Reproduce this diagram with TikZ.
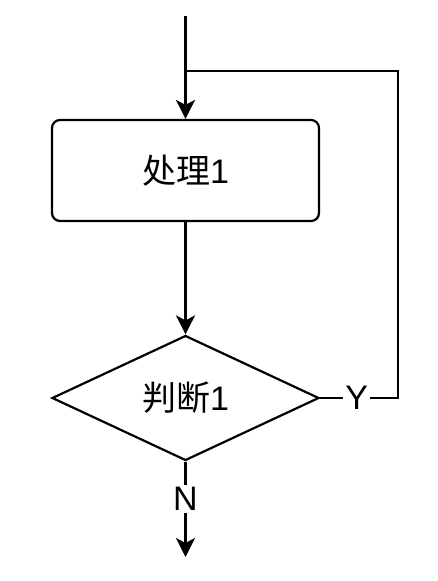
\documentclass[tikz,border=0pt]{standalone}
\usepackage{fontspec}
\setmainfont{Liberation Sans}
\newfontfamily\cjk{Noto Sans CJK SC}
\usetikzlibrary{shapes.geometric,arrows.meta}
\begin{document}
\begin{tikzpicture}[x=1pt,y=-1pt,
  every node/.style={font=\fontsize{34}{40}\selectfont},
  procbox/.style={draw,line width=2.2pt,rounded corners=8pt,minimum width=267pt,minimum height=101pt,inner sep=0pt},
  decbox/.style={draw,diamond,line width=2.2pt,minimum width=267pt,minimum height=125pt,aspect=2.14,inner sep=0pt},
  conn/.style={line width=2.2pt},
  arr/.style={conn,-{Stealth[length=19pt,width=19pt,inset=5pt]}},
  lbl/.style={fill=white,inner sep=2pt}]
\useasboundingbox (0,0) rectangle (437,581);
\coordinate (start) at (185.5,16);
\node[procbox] (proc) at (185.5,170.5) {{\cjk 处理}1};
\node[decbox] (dec) at (185.5,398) {{\cjk 判断}1};
\coordinate (rb) at (398,398);
\coordinate (rt) at (398,71);
\coordinate (join) at (185.5,71);
\coordinate (endpt) at (185.5,557);
\draw[arr] (start) -- (proc.north);
\draw[arr] (proc.south) -- (dec.north);
\draw[conn] (dec.east) -- node[lbl,pos=0.47] (ylab) {Y} (rb) -- (rt) -- (join);
\draw[arr] (dec.south) -- node[lbl,pos=0.39] (nlab) {N} (endpt);
\end{tikzpicture}
\end{document}
